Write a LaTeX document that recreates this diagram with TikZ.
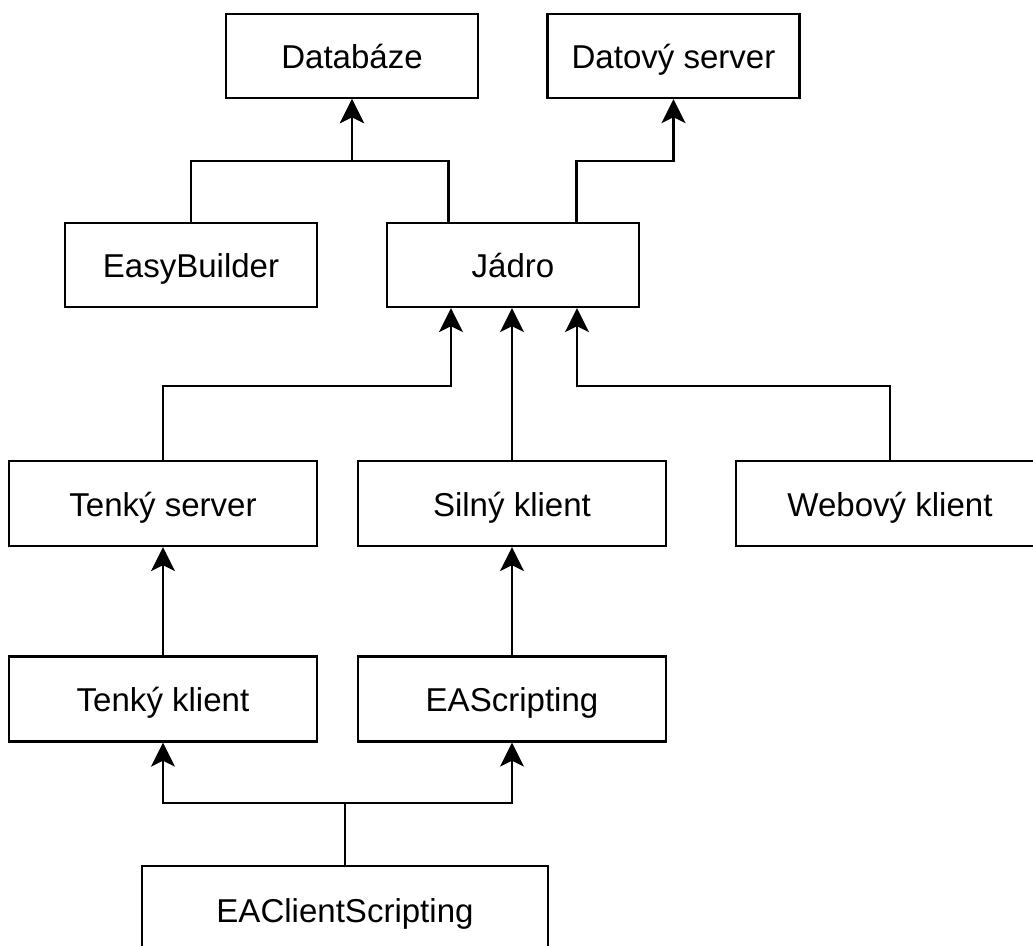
\documentclass[tikz,border=0pt]{standalone}
\usepackage{fontspec}
\setmainfont{Liberation Sans}
\usepackage{tikz}
\usetikzlibrary{positioning}
\usetikzlibrary{arrows.meta}
\tikzset{
	module/.style={draw, rectangle, line width=1.3pt, inner sep=0pt, minimum width=5.04cm, minimum height=1.68cm, text height=14.5pt, text depth=0pt, font=\fontsize{18.8}{22}\selectfont},
	widemodule/.style={module, minimum width=6.16cm, minimum height=1.7cm},
	% bottom box, cut by the page edge
	bigmodule/.style={module, minimum width=8.12cm, minimum height=1.76cm},
}

\begin{document}
\begin{tikzpicture}
		\useasboundingbox (-7.04,1.12) rectangle (13.62,-17.8);
		
		\node (db) [module] {Databáze};
		\node (datasrv) [module, right of=db, xshift=5.43cm] {Datový server};
		
		\node (jadro) [module, below of=db, xshift=3.22cm, yshift=-3.18cm] {Jádro};
		\node (easyb) [module, left of=jadro, xshift=-5.44cm] {EasyBuilder};
		
		\node (silny) [widemodule, below of=jadro, xshift=-0.02cm, yshift=-3.77cm] {Silný klient};
		\node (tserver) [widemodule, left of=silny, xshift=-5.98cm] {Tenký server};
		\node (web) [widemodule, right of=silny, xshift=6.56cm] {Webový klient};
		
		\node (tklient) [widemodule, below of=tserver, yshift=-2.91cm] {Tenký klient};
		\node (eascr) [widemodule, below of=silny, yshift=-2.91cm] {EAScripting};
		
		\node (eaclient) [bigmodule, below of=tklient, xshift=3.64cm, yshift=-3.22cm] {EAClientScripting};
		
		\begin{scope}[line width=1.2pt, black, ->, >={Stealth[length=0.48cm, width=0.48cm, inset=0.12cm]}]
			\draw (easyb.north) -- ++(0,1.22) -| (db.south);
			\draw ([xshift=-1.29cm]jadro.north) -- ++(0,1.22) -| (db.south);
			\draw ([xshift=1.27cm]jadro.north) -- ++(0,1.22) -| (datasrv.south);
			
			\draw (tserver.north) -- ++(0,1.48) -| ([xshift=-1.24cm]jadro.south);
			\draw (silny.north) -- (silny.north |- jadro.south);
			\draw (web.north) -- ++(0,1.48) -| ([xshift=1.28cm]jadro.south);
			
			\draw (tklient.north) -- (tserver.south);
			\draw (eascr.north) -- (eascr.north |- silny.south);
			
			\draw (eaclient.north) -- ++(0,1.24) -| (tklient.south);
			\draw (eaclient.north) -- ++(0,1.24) -| (eascr.south);
		\end{scope}
	\end{tikzpicture}
\end{document}
